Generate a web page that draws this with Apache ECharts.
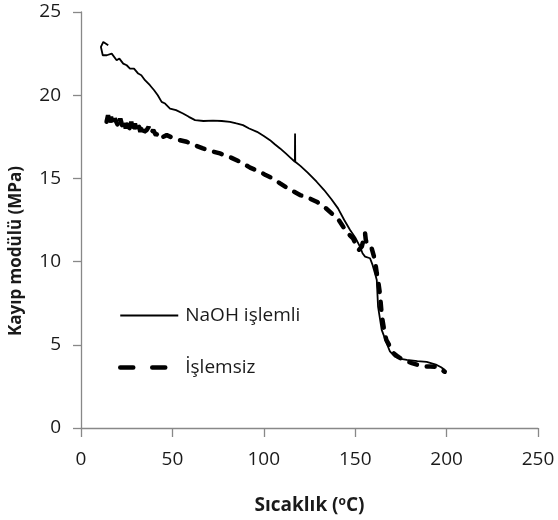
<!DOCTYPE html>
<html>
<head>
<meta charset="utf-8">
<script src="https://cdn.jsdelivr.net/npm/echarts@6/dist/echarts.min.js"></script>
<style>html,body{margin:0;padding:0;background:#fff}#c{width:558px;height:520px}</style>
</head>
<body>
<div id="c"></div>
<script>
var seriesNames = ['NaOH işlemli', 'İşlemsiz'];
var xTicks = [0, 50, 100, 150, 200, 250];
var yTicks = [0, 5, 10, 15, 20, 25];

var naoh = [[14.9,23.0],[12.2,23.2],[10.9,22.9],[11.9,22.4],[14.1,22.4],[16.8,22.5],[19.5,22.1],[21,22.2],[23.1,21.9],[25,21.8],[26.8,21.6],[29,21.6],[31.3,21.3],[33,21.2],[35.0,20.9],[37.7,20.6],[40,20.3],[42,20.0],[44.1,19.6],[46,19.5],[48.7,19.2],[52,19.1],[55.8,18.9],[59,18.7],[62.4,18.5],[67,18.45],[72.2,18.47],[77,18.45],[81.5,18.4],[85,18.3],[88.6,18.2],[92,18.0],[96.3,17.8],[100,17.55],[103.4,17.3],[106,17.05],[108.9,16.8],[112,16.5],[114.5,16.25],[117,16.0],[117.1,17.7],[117.2,16.0],[120,15.75],[124,15.35],[128.9,14.8],[133,14.3],[137,13.75],[140.6,13.2],[144,12.5],[147.2,11.9],[150,11.45],[152.6,10.9],[154,10.5],[155.4,10.3],[158.1,10.2],[159.5,9.8],[160.8,9.3],[161.8,8.9],[162.5,7.3],[164.5,5.9],[167.2,5.1],[169,4.6],[171.8,4.28],[175,4.15],[178.2,4.09],[184,4.02],[189.1,3.98],[194.6,3.79],[197,3.65],[199.1,3.49]];

var islemsiz = [[14,18.4],[14.8,18.8],[15.6,18.3],[16.4,18.7],[17.5,18.2],[18.5,18.6],[19.5,18.5],[20.5,18.1],[21.5,18.6],[22.5,18.2],[23.5,18.5],[24.5,18.0],[25.5,18.4],[26.5,18.0],[27.5,18.4],[28.5,17.9],[29.5,18.3],[30.5,17.9],[31.5,18.2],[32.5,17.8],[33.5,18.2],[34.5,17.8],[35.9,17.9],[37,18.1],[38,17.7],[39.5,17.9],[41,17.6],[43,17.8],[45,17.5],[46.9,17.6],[50,17.45],[54,17.3],[57.8,17.2],[62,17.0],[66.7,16.8],[71,16.65],[76,16.5],[81,16.3],[87,16.0],[92.5,15.65],[97.9,15.4],[101,15.2],[105,15.0],[108.9,14.7],[114,14.35],[119.8,14.0],[124,13.85],[128.9,13.6],[133,13.3],[137.1,12.9],[141,12.5],[144,12.0],[146,11.7],[148.8,11.4],[150.5,11.0],[152,10.7],[153.6,10.9],[155.4,11.7],[155.8,11.3],[157,10.9],[159,10.8],[160.8,10.1],[161.8,9.3],[162.5,8.9],[163.6,8.0],[164.5,6.8],[165.8,5.9],[167,5.3],[169,4.9],[171,4.5],[173.4,4.28],[177,4.05],[181,3.9],[187,3.7],[191,3.7],[194.6,3.68],[199,3.38]];

var FONT = 'Open Sans';
var axisColor = '#888888';
var chart = echarts.init(document.getElementById('c'), null, {renderer: 'canvas'});
chart.setOption({
  animation: false,
  backgroundColor: '#ffffff',
  grid: {left: 81, right: 20, top: 12, bottom: 92, containLabel: false},
  legend: {
    orient: 'vertical', left: 118, top: 306, padding: 0,
    itemWidth: 58, itemHeight: 14, itemGap: 33,
    itemStyle: {opacity: 0},
    textStyle: {fontFamily: FONT, fontSize: 19, color: '#1a1a1a', padding: [0,0,0,2]},
    data: [
      {name: seriesNames[0], itemStyle: {opacity: 0}, lineStyle: {width: 1.8, color: '#000'}},
      {name: seriesNames[1], itemStyle: {opacity: 0}, lineStyle: {width: 4.5, color: '#000', type: [13, 19], cap: 'round'}}
    ]
  },
  xAxis: {
    type: 'value', min: xTicks[0], max: xTicks[xTicks.length-1], interval: 50,
    name: '{b|Sıcaklık (}{s|o}{b|C)}', nameLocation: 'middle', nameGap: 68,
    nameTextStyle: {rich: {b: {fontFamily: FONT, fontSize: 19, fontWeight: 'bold', color: '#1a1a1a'}, s: {fontFamily: FONT, fontSize: 12, fontWeight: 'bold', color: '#1a1a1a', verticalAlign: 'top', padding: [0,0,7,0]}}},
    axisLine: {lineStyle: {color: axisColor, width: 1.3}},
    axisTick: {show: true, inside: false, length: 9, lineStyle: {color: axisColor, width: 1.3}},
    axisLabel: {fontFamily: FONT, fontSize: 19, color: '#1a1a1a', margin: 22},
    splitLine: {show: false}
  },
  yAxis: {
    type: 'value', min: yTicks[0], max: yTicks[yTicks.length-1], interval: 5,
    name: 'Kayıp modülü (MPa)', nameLocation: 'middle', nameGap: 56,
    nameTextStyle: {fontFamily: FONT, fontSize: 17, fontWeight: 'bold', color: '#1a1a1a', padding: [0, 62, 0, 0]},
    axisLine: {show: true, lineStyle: {color: axisColor, width: 1.3}},
    axisTick: {show: true, inside: false, length: 8, lineStyle: {color: axisColor, width: 1.3}},
    axisLabel: {fontFamily: FONT, fontSize: 19, color: '#1a1a1a', margin: 20},
    splitLine: {show: false}
  },
  series: [
    {name: seriesNames[0], type: 'line', data: naoh, symbol: 'none', lineStyle: {color: '#000', width: 1.8}, itemStyle: {color: '#000'}},
    {name: seriesNames[1], type: 'line', data: islemsiz, symbol: 'none', lineStyle: {color: '#000', width: 4.5, type: [8, 10], cap: 'round'}, itemStyle: {color: '#000'}}
  ]
});
</script>
</body>
</html>
